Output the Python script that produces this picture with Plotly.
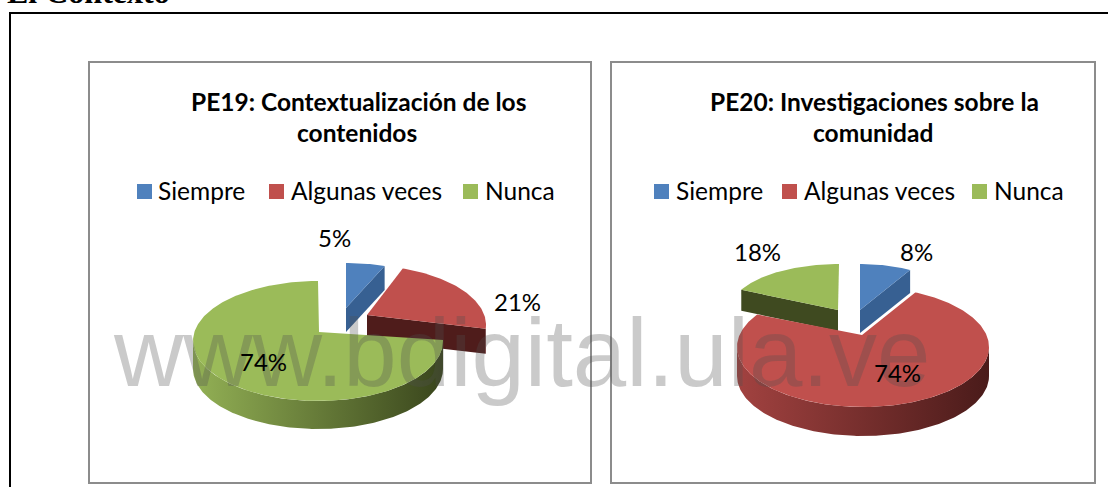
import math
import plotly.graph_objects as go

# ---- data ----
CATEGORIES = ["Siempre", "Algunas veces", "Nunca"]
PE19_VALUES = [5, 21, 74]
PE20_VALUES = [8, 74, 18]
PE19_TITLE = "PE19: Contextualización de los<br>contenidos"
PE20_TITLE = "PE20: Investigaciones sobre la<br>comunidad"
HEADER = "El Contexto"
WATERMARK = "www.bdigital.ula.ve"

# ---- styles and layout (page pixels) ----
TOP = ["#4f81bd", "#c0504d", "#9bbb59"]
END_WALL = ["#376092", "#4f1c1b", "#3f4a20"]
RIM = [("#4f81bd", "#2c4d75"), ("#a24240", "#4a1b1a"), ("#93b155", "#39451c")]
BODY = "Lato"

# per slice: ellipse centre, radii, apex, depth, and the small angle shift (w0, w1)
# that the 3D perspective puts on the slice's two cut edges
PE19_GEOM = {
    0: dict(cx=346, cy=323, rx=125, ry=60, ax=346, ay=308, d=24, w0=0, w1=0),
    1: dict(cx=361, cy=325, rx=125, ry=60, ax=367, ay=315, d=25, w0=1.5, w1=0),
    2: dict(cx=318, cy=341, rx=125, ry=60, ax=319, ay=332, d=28, w0=-4.5, w1=0),
}
PE20_GEOM = {
    0: dict(cx=860, cy=312, rx=104, ry=48, ax=860, ay=310, d=23, w0=0, w1=0),
    2: dict(cx=839, cy=309, rx=108, ry=45, ax=838, ay=310, d=21, w0=0, w1=0),
    1: dict(cx=863, cy=347, rx=126, ry=60, ax=862, ay=335, d=29, w0=-4.3, w1=7.6),
}
CHARTS = [
    dict(values=PE19_VALUES, geom=PE19_GEOM, order=[0, 1, 2], title=PE19_TITLE, tx=358,
         swatches=[137, 269, 463], texts=[158, 291, 485],
         labels=[(334, 237), (517, 301), (263, 361)]),
    dict(values=PE20_VALUES, geom=PE20_GEOM, order=[0, 2, 1], title=PE20_TITLE, tx=874,
         swatches=[654, 782, 972], texts=[676, 804, 994],
         labels=[(916, 251), (897, 372), (757, 251)]),
]
BOXES = [(89, 62, 591, 483), (611, 62, 1095, 483)]


def arc(g, t0, t1, shift=0):
    n = max(2, int(abs(t1 - t0)) + 1)
    ts = [math.radians(t0 + (t1 - t0) * i / (n - 1)) for i in range(n)]
    return ([g["cx"] + g["rx"] * math.sin(t) for t in ts],
            [g["cy"] - g["ry"] * math.cos(t) + shift for t in ts])


def poly(fig, xs, ys, color=None, grad=None):
    kw = dict(x=xs, y=ys, mode="lines", fill="toself", line=dict(width=0),
              hoverinfo="skip", showlegend=False)
    if grad:
        kw["fillgradient"] = dict(type="horizontal",
                                  colorscale=[[0, grad[0]], [1, grad[1]]])
    else:
        kw["fillcolor"] = color
    fig.add_trace(go.Scatter(**kw))


fig = go.Figure()
annotations = []
shapes = []


def note(x, y, text, size, weight="normal", family=BODY, xanchor="center",
         yanchor="middle", color="#000000"):
    annotations.append(dict(x=x, y=y, xref="x", yref="y", text=text, showarrow=False,
                            xanchor=xanchor, yanchor=yanchor, align="center", borderpad=0,
                            borderwidth=0, font=dict(family=family, size=size, color=color,
                                                     weight=weight)))


for chart in CHARTS:
    total = sum(chart["values"])
    starts, acc = [], 0
    for v in chart["values"]:
        starts.append(acc * 360 / total)
        acc += v
    for i in chart["order"]:
        g = chart["geom"][i]
        t0 = starts[i] + g["w0"]
        t1 = starts[i] + chart["values"][i] * 360 / total + g["w1"]
        d = g["d"]
        ex, ey = arc(g, t0, t1)
        # straight cut wall that faces the viewer
        if t1 <= 180:
            poly(fig, [g["ax"], ex[-1], ex[-1], g["ax"]],
                 [g["ay"], ey[-1], ey[-1] + d, g["ay"] + d], END_WALL[i])
        elif t0 >= 180:
            poly(fig, [g["ax"], ex[0], ex[0], g["ax"]],
                 [g["ay"], ey[0], ey[0] + d, g["ay"] + d], END_WALL[i])
        # curved rim on the front half
        r0, r1 = max(t0, 90), min(t1, 270)
        if r1 > r0:
            ux, uy = arc(g, r0, r1)
            lx, ly = arc(g, r0, r1, d)
            poly(fig, ux + lx[::-1], uy + ly[::-1], grad=RIM[i])
        # top face
        poly(fig, [g["ax"]] + ex + [g["ax"]], [g["ay"]] + ey + [g["ay"]], TOP[i])

# frames
shapes.append(dict(type="line", x0=9, x1=1108, y0=13, y1=13, xref="x", yref="y",
                   line=dict(color="#000000", width=2), layer="below"))
shapes.append(dict(type="line", x0=10, x1=10, y0=13, y1=487, xref="x", yref="y",
                   line=dict(color="#000000", width=2), layer="below"))
for (x0, y0, x1, y1) in BOXES:
    shapes.append(dict(type="rect", x0=x0, y0=y0, x1=x1, y1=y1, xref="x", yref="y",
                       line=dict(color="#8c8c8c", width=2), layer="below"))

# header, cut by the page's top edge
note(7, 10, "<b>" + HEADER + "</b>", 32, family="Liberation Serif", xanchor="left",
     yanchor="bottom")

# watermark above pies, below data labels
note(521, 352, WATERMARK, 96, family="Liberation Sans", color="rgba(80,80,80,0.30)")

for chart in CHARTS:
    a, b = chart["title"].split("<br>")
    note(chart["tx"], 101, a, 24.5, weight="bold")
    note(chart["tx"] - 1, 132, b, 24.5, weight="bold")
    for i, cat in enumerate(CATEGORIES):
        sx = chart["swatches"][i]
        shapes.append(dict(type="rect", x0=sx, x1=sx + 15, y0=184, y1=199, xref="x", yref="y",
                           fillcolor=TOP[i], line=dict(width=0)))
        note(chart["texts"][i], 190, cat, 24.5, xanchor="left")
        lx, ly = chart["labels"][i]
        note(lx, ly, f"{chart['values'][i]}%", 24)

fig.update_layout(
    width=1108, height=487, autosize=False,
    margin=dict(l=0, r=0, t=0, b=0),
    paper_bgcolor="#ffffff", plot_bgcolor="#ffffff",
    xaxis=dict(range=[0, 1108], visible=False, fixedrange=True),
    yaxis=dict(range=[487, 0], visible=False, fixedrange=True),
    shapes=shapes, annotations=annotations, showlegend=False,
)
fig.write_html("out.html", config=dict(displayModeBar=False),
               post_script="document.body.style.margin='0';")
